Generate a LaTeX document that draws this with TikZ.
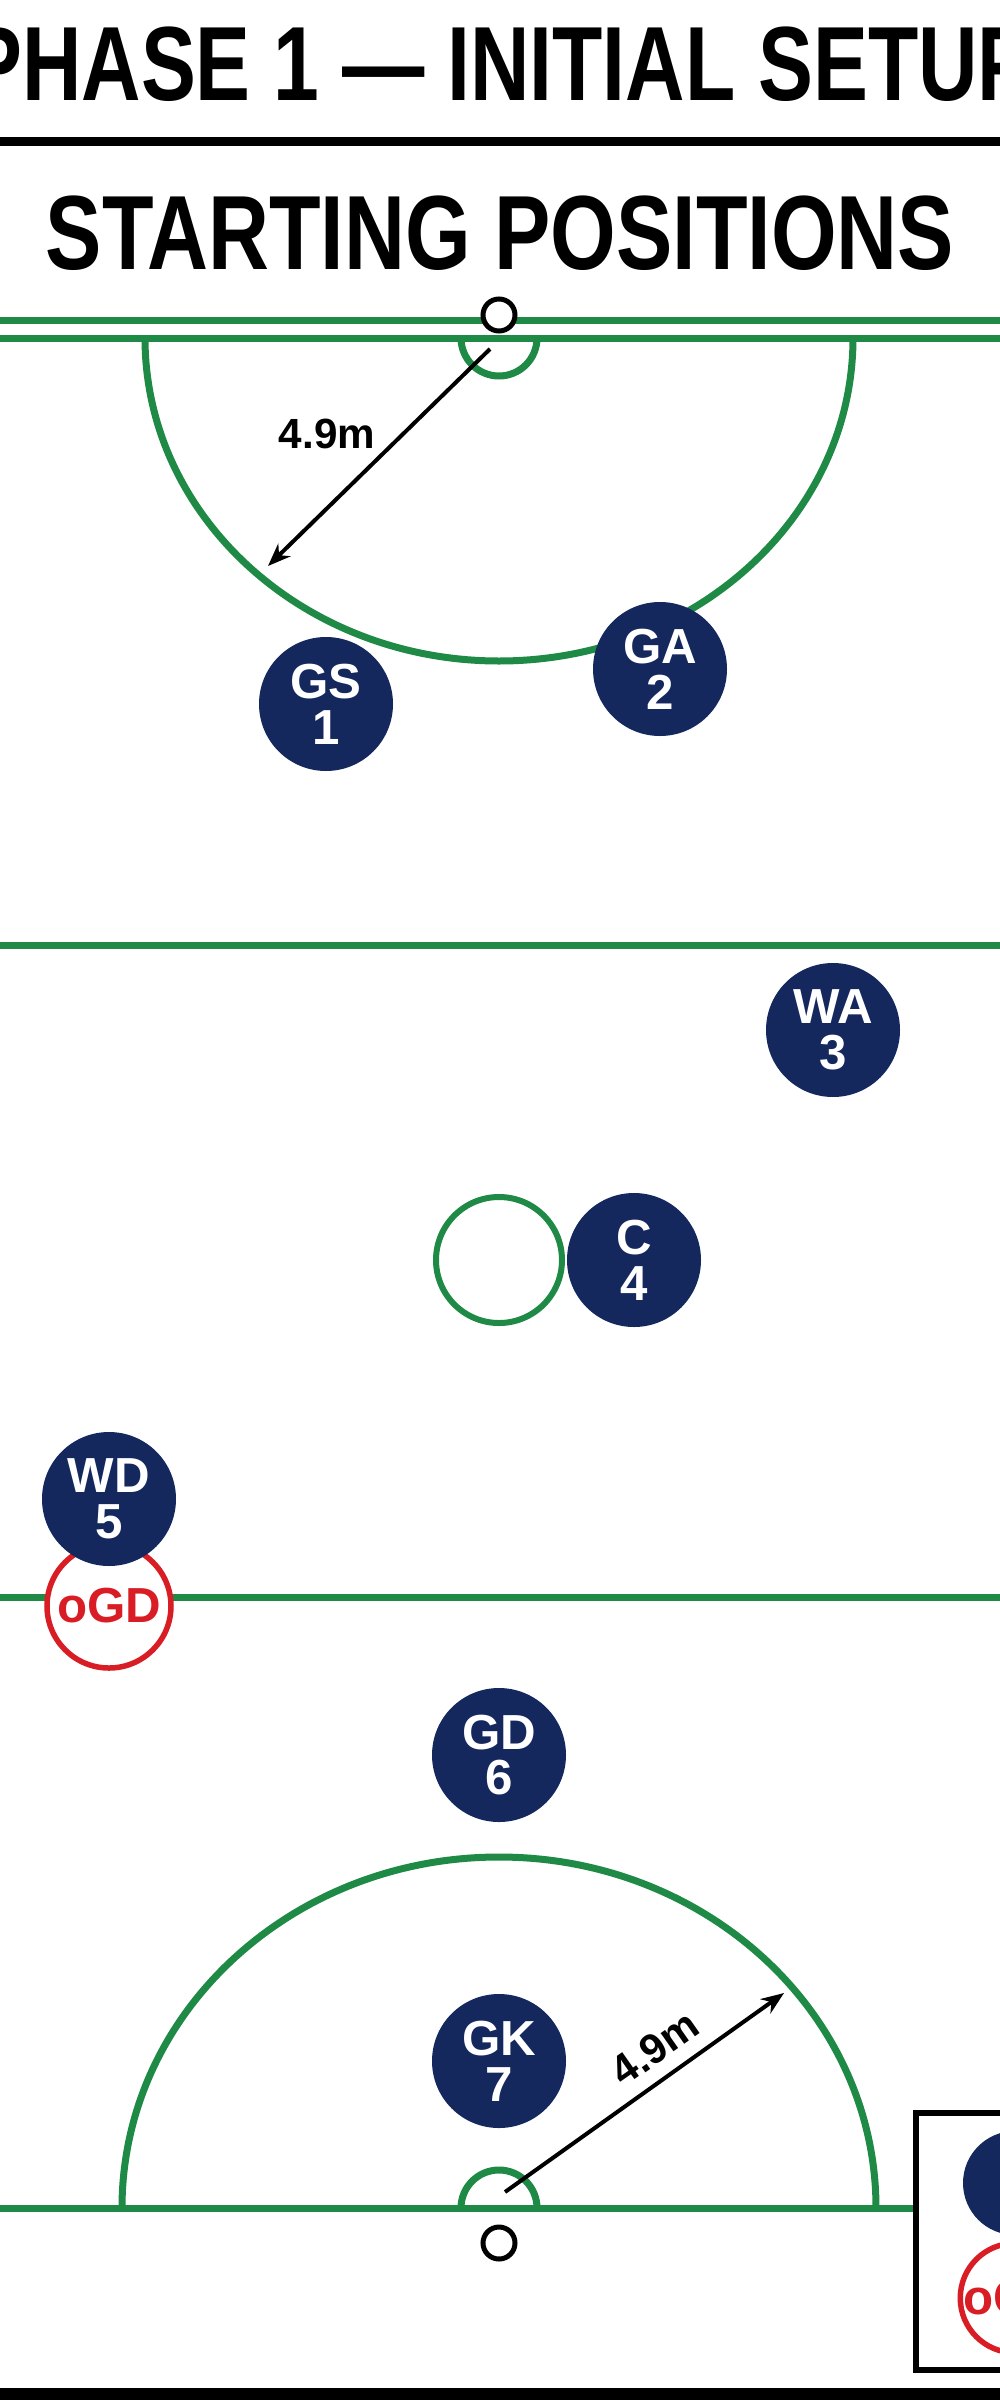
\documentclass[tikz,border=0pt]{standalone}
\usepackage{fontspec}
\setmainfont{Liberation Sans}
\usetikzlibrary{arrows.meta}
\definecolor{navy}{HTML}{14285E}
\definecolor{court}{HTML}{1E8A45}
\definecolor{ored}{HTML}{D81E24}
\newlength{\pxu}\setlength{\pxu}{0.01cm}
\tikzset{
  player/.style={circle,fill=navy,minimum size=134\pxu,inner sep=0pt,text=white,font=\bfseries\fontsize{14}{13}\selectfont,align=center,text width=100\pxu},
  opp/.style={circle,draw=ored,line width=5.5\pxu,fill=white,minimum size=124\pxu,inner sep=0pt,text=ored,font=\bfseries\fontsize{14}{14}\selectfont},
  cline/.style={draw=court,line width=7\pxu},
  ring/.style={circle,draw=black,line width=5\pxu,minimum size=32\pxu,inner sep=0pt,fill=white},
  dim/.style={draw=black,line width=4\pxu,-{Stealth[length=6.5pt,width=5pt]}},
  dimlab/.style={font=\bfseries\fontsize{12}{12}\selectfont},
}
\begin{document}
\begin{tikzpicture}[x=0.01cm,y=-0.01cm]
\useasboundingbox (0,0) rectangle (1000,2400);
\clip (0,0) rectangle (1000,2400);
\fill[white] (0,0) rectangle (1000,2400);
% titles
\node (title) at (500,64) {\scalebox{0.78}[1]{\bfseries\fontsize{30}{30}\selectfont PHASE 1 — INITIAL SETUP}};
\fill[black] (0,137) rectangle (1000,146);
\node (sub) at (500,233) {\scalebox{0.8}[1]{\bfseries\fontsize{30}{30}\selectfont STARTING POSITIONS}};
% top goal area
\draw[cline] (0,320) -- (1000,320);
\draw[cline] (0,338) -- (1000,338);
\draw[cline] (145,338) arc[start angle=180,end angle=0,x radius=354,y radius=323];
\draw[cline] (461,338) arc[start angle=180,end angle=0,radius=38];
\node[ring] (tpost) at (499,315) {};
\coordinate (ta) at (490,349);
\coordinate (tb) at (268,566);
\draw[dim] (ta) -- (tb);
\node[dimlab] (tl) at (327,434) {4.9m};
% thirds
\draw[cline] (0,945) -- (1000,945);
\draw[cline] (0,1597) -- (1000,1597);
\node[circle,draw=court,line width=6\pxu,minimum size=126\pxu,inner sep=0pt] (cc) at (499,1260) {};
% bottom goal area
\draw[cline] (0,2208) -- (916,2208);
\draw[cline] (122,2208) arc[start angle=180,end angle=360,x radius=377,y radius=351];
\draw[cline] (461,2208) arc[start angle=180,end angle=360,radius=38];
\node[ring] (bpost) at (499,2243) {};
\coordinate (ba) at (505,2192);
\coordinate (bb) at (784,1993);
\draw[dim] (ba) -- (bb);
\node[dimlab,rotate=35] (bl) at (655,2048) {4.9m};
% players
\node[opp] (ogd) at (109,1606) {oGD};
\node[player] (gs) at (326,704) {GS\\1};
\node[player] (ga) at (660,669) {GA\\2};
\node[player] (wa) at (833,1030) {WA\\3};
\node[player] (c) at (634,1260) {C\\4};
\node[player] (wd) at (109,1499) {WD\\5};
\node[player] (gd) at (499,1755) {GD\\6};
\node[player] (gk) at (499,2061) {GK\\7};
% legend box
\draw[black,line width=6\pxu,fill=white] (916,2113) rectangle (1040,2370);
\node[player,minimum size=104\pxu] (lp) at (1015,2183) {};
\node[opp,minimum size=100\pxu] (lo) at (1015,2298) {oGD};
\fill[black] (0,2388) rectangle (1000,2400);
\end{tikzpicture}
\end{document}
